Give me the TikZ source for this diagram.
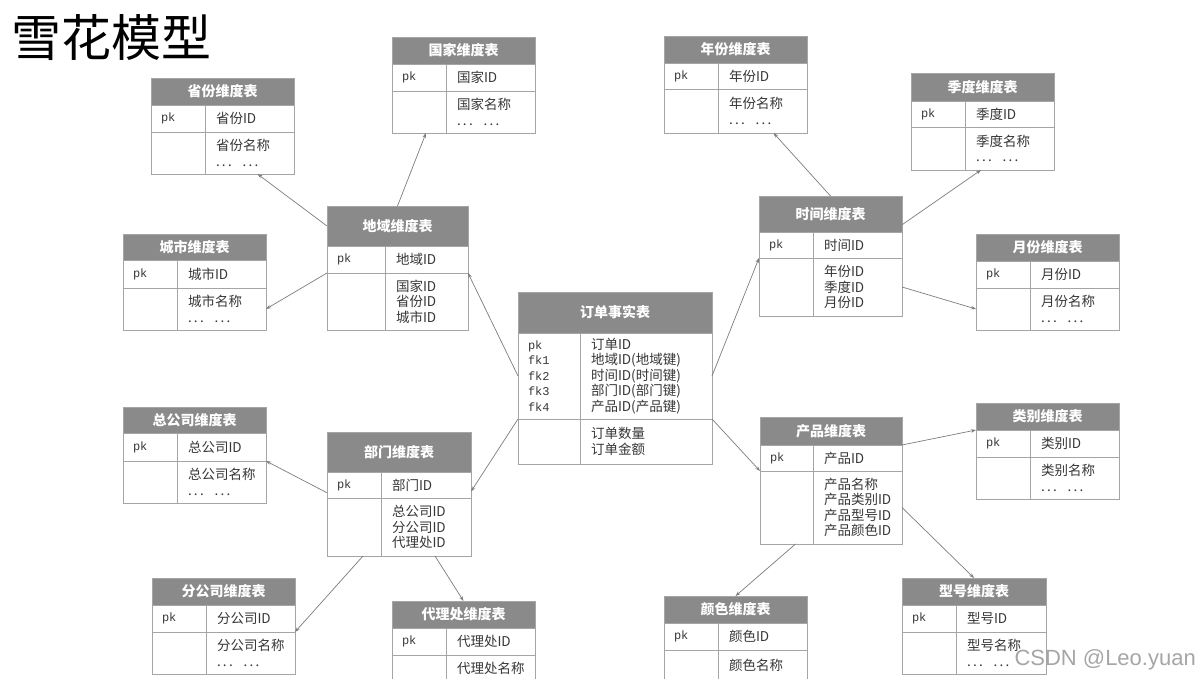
\documentclass[tikz,border=0pt]{standalone}
\usepackage{fontspec}
\setmainfont{Noto Sans CJK SC}
\setmonofont{Liberation Mono}
\newfontfamily\wmfont{Liberation Sans}
\usepackage{tikz}
\usetikzlibrary{calc,arrows.meta}

\definecolor{tabfill}{RGB}{138,138,138}
\definecolor{tabline}{RGB}{165,165,165}
\definecolor{tabtext}{RGB}{55,55,55}
\definecolor{linkgray}{RGB}{125,125,125}

\newcommand{\keyfont}{\ttfamily\fontsize{12}{15.5}\selectfont}
\newcommand{\moredots}{.\,.\,.\hspace{0.8em}.\,.\,.}
\def\tabw{143}
\def\tabl{54}

% #1 name, #2 top left, #3 title, #4 head height, #5 key column,
% #6 key fields, #7 key height, #8 other fields, #9 body height
\newcommand{\ertable}[9]{%
  \pgfmathsetmacro\tabr{\tabw-\tabl}%
  \pgfmathsetmacro\tablt{\tabl-20}%
  \pgfmathsetmacro\tabrt{\tabw-\tabl-22}%
  \node[tabhead, minimum width=\tabw pt, minimum height=#4pt] (#1) at #2 {#3};
  \node[tabcell, minimum width=\tabl pt, minimum height=#7pt, text width=\tablt pt, font=\keyfont] (#1-kl) at (#1.south west) {#5};
  \node[tabcell, minimum width=\tabr pt, minimum height=#7pt, text width=\tabrt pt] (#1-kr) at (#1-kl.north east) {#6};
  \node[tabcell, minimum width=\tabl pt, minimum height=#9pt] (#1-bl) at (#1-kl.south west) {};
  \node[tabcell, minimum width=\tabr pt, minimum height=#9pt, text width=\tabrt pt] (#1-br) at (#1-bl.north east) {#8};
}

\tikzset{
  tabhead/.style={draw=tabline, fill=tabfill, text=white, anchor=north west,
    inner sep=0pt, outer sep=0pt, font=\bfseries\fontsize{14}{16}\selectfont},
  tabcell/.style={draw=tabline, text=tabtext, anchor=north west, align=left,
    inner sep=0pt, outer sep=0pt, font=\fontsize{13.5}{15.5}\selectfont},
  link/.style={color=linkgray, line width=0.7pt, -{Stealth[length=5pt,width=3.5pt]}}
}

\begin{document}
\begin{tikzpicture}[x=1pt,y=-1pt]
  \useasboundingbox[fill=white] (0,0) rectangle (1200,679);
  \node[font=\fontsize{50}{50}\selectfont, inner sep=0pt] (title) at (112,38) {雪花模型};

  % fact table
  {\def\tabw{194}\def\tabl{62}
  \ertable{fact}{(518,292)}{订单事实表}{41}{pk\\fk1\\fk2\\fk3\\fk4}
    {订单ID\\地域ID(地域键)\\时间ID(时间键)\\部门ID(部门键)\\产品ID(产品键)}{86}
    {订单数量\\订单金额}{45}}

  % area
  {\def\tabw{141}\def\tabl{58}
  \ertable{area}{(327,206)}{地域维度表}{40}{pk}{地域ID}{27}{国家ID\\省份ID\\城市ID}{57}}
  \ertable{prov}{(151,78)}{省份维度表}{27}{pk}{省份ID}{27}{省份名称\\\moredots}{42}
  \ertable{country}{(392,37)}{国家维度表}{27}{pk}{国家ID}{27}{国家名称\\\moredots}{42}
  \ertable{city}{(123,234)}{城市维度表}{26}{pk}{城市ID}{28}{城市名称\\\moredots}{42}

  % time
  \ertable{time}{(759,196)}{时间维度表}{36}{pk}{时间ID}{26}{年份ID\\季度ID\\月份ID}{58}
  \ertable{year}{(664,36)}{年份维度表}{27}{pk}{年份ID}{26}{年份名称\\\moredots}{44}
  \ertable{season}{(911,73)}{季度维度表}{28}{pk}{季度ID}{26}{季度名称\\\moredots}{43}
  \ertable{month}{(976,234)}{月份维度表}{27}{pk}{月份ID}{27}{月份名称\\\moredots}{42}

  % department
  {\def\tabw{144}
  \ertable{dept}{(327,432)}{部门维度表}{40}{pk}{部门ID}{26}{总公司ID\\分公司ID\\代理处ID}{58}}
  \ertable{hq}{(123,407)}{总公司维度表}{26}{pk}{总公司ID}{28}{总公司名称\\\moredots}{42}
  \ertable{branch}{(152,578)}{分公司维度表}{27}{pk}{分公司ID}{27}{分公司名称\\\moredots}{42}
  \ertable{agent}{(392,601)}{代理处维度表}{27}{pk}{代理处ID}{27}{代理处名称}{26}

  % product
  {\def\tabw{142}\def\tabl{53}
  \ertable{prod}{(760,417)}{产品维度表}{28}{pk}{产品ID}{26}{产品名称\\产品类别ID\\产品型号ID\\产品颜色ID}{73}}
  \ertable{cat}{(976,403)}{类别维度表}{27}{pk}{类别ID}{27}{类别名称\\\moredots}{42}
  \ertable{color}{(664,596)}{颜色维度表}{27}{pk}{颜色ID}{27}{颜色名称}{31}
  {\def\tabw{144}
  \ertable{model}{(902,578)}{型号维度表}{27}{pk}{型号ID}{27}{型号名称\\\moredots}{42}}

  \path[link]
    (fact-kl.west) edge (area-kr.south east)
    (fact-bl.north west) edge ($(dept-kr.east)!.5!(dept-kr.south east)$)
    (fact-kr.east) edge (time-kl.south west)
    (fact-br.north east) edge (prod-bl.north west)
    (area.west) edge ($(prov-br.south)+(8,0)$)
    (area.north) edge ($(country-bl.south)+(7,0)$)
    (area-kl.south west) edge (city-br.east)
    (time.north) edge ($(year-br.south)+(11,0)$)
    ($(time.east)!.6!(time.south east)$) edge ($(season-bl.south east)+(16,0)$)
    (time-br.east) edge (month-bl.west)
    ($(dept-kl.west)!.6!(dept-kl.south west)$) edge (hq-kr.south east)
    ($(dept-bl.south)+(9,0)$) edge (branch-kr.south east)
    ($(dept-br.south)+(9,0)$) edge (agent.north)
    (prod.south east) edge (cat.south west)
    ($(prod-bl.south)+(9,0)$) edge (color.north)
    (prod-br.east) edge (model.north);

  \node[font=\wmfont\fontsize{22}{22}\selectfont, text=black!35, anchor=south east, inner sep=0pt] (mark) at (1196,670) {CSDN @Leo.yuan};
\end{tikzpicture}
\end{document}
